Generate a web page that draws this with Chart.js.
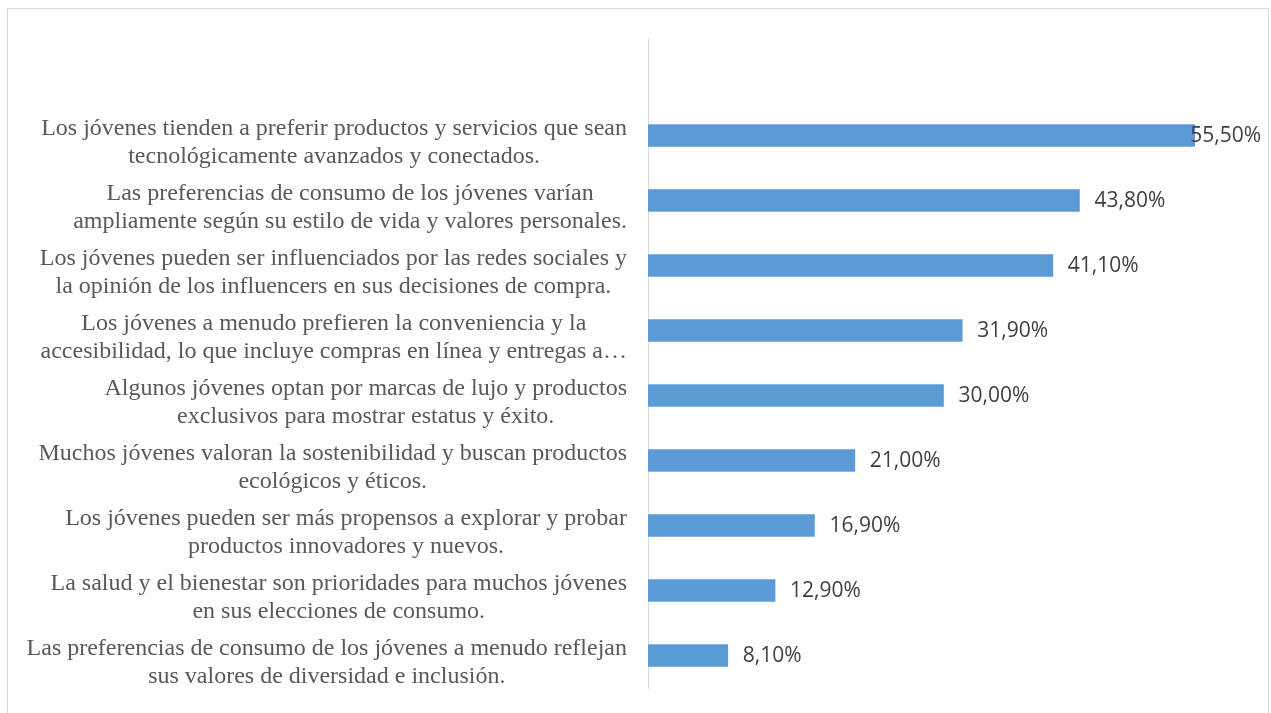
<!DOCTYPE html>
<html>
<head>
<meta charset="utf-8">
<script src="https://cdn.jsdelivr.net/npm/chart.js@4.4.0/dist/chart.umd.min.js"></script>
<style>
  html, body { margin: 0; padding: 0; background: #fff; }
  #frame { position: absolute; left: 7px; top: 8px; width: 1260px; height: 720px; border: 1px solid #d9d9d9; }
  #wrap { position: absolute; left: 0; top: 0; width: 1271px; height: 713px; }
</style>
</head>
<body>
<div id="frame"></div>
<div id="wrap"><canvas id="chart1"></canvas></div>
<script>
// first row is an empty category (blank row in the source sheet)
var categorias = [
    [""],
    ["Los jóvenes tienden a preferir productos y servicios que sean", "tecnológicamente avanzados y conectados."],
    ["Las preferencias de consumo de los jóvenes varían", "ampliamente según su estilo de vida y valores personales."],
    ["Los jóvenes pueden ser influenciados por las redes sociales y", "la opinión de los influencers en sus decisiones de compra."],
    ["Los jóvenes a menudo prefieren la conveniencia y la", "accesibilidad, lo que incluye compras en línea y entregas a…"],
    ["Algunos jóvenes optan por marcas de lujo y productos", "exclusivos para mostrar estatus y éxito."],
    ["Muchos jóvenes valoran la sostenibilidad y buscan productos", "ecológicos y éticos."],
    ["Los jóvenes pueden ser más propensos a explorar y probar", "productos innovadores y nuevos."],
    ["La salud y el bienestar son prioridades para muchos jóvenes", "en sus elecciones de consumo."],
    ["Las preferencias de consumo de los jóvenes a menudo reflejan", "sus valores de diversidad e inclusión."]
];
var porcentajes = [null, 55.5, 43.8, 41.1, 31.9, 30.0, 21.0, 16.9, 12.9, 8.1];
var ejeMax = 60;

function formato(v) {
    return v.toFixed(2).replace('.', ',') + '%';
}

// etiquetas de categoria centradas por bloque, alineadas a la derecha
var etiquetasPlugin = {
    id: 'etiquetas',
    afterDraw: function (chart) {
        var ctx = chart.ctx;
        var y = chart.scales.y;
        var right = chart.chartArea.left - 21;
        ctx.save();
        ctx.font = '24px "Liberation Serif", "Times New Roman", serif';
        ctx.fillStyle = '#595959';
        ctx.textAlign = 'center';
        ctx.textBaseline = 'middle';
        categorias.forEach(function (lineas, i) {
            if (!lineas[0]) return;
            var maxW = 0;
            lineas.forEach(function (l) { maxW = Math.max(maxW, ctx.measureText(l).width); });
            var cx = right - maxW / 2;
            var cy = y.getPixelForValue(i);
            var lh = 28;
            var top = cy - (lineas.length - 1) * lh / 2 + 7;
            lineas.forEach(function (l, k) {
                ctx.fillText(l, cx, top + k * lh);
            });
        });
        ctx.restore();
    }
};

// etiquetas de datos al final de cada barra
var valoresPlugin = {
    id: 'valores',
    afterDatasetsDraw: function (chart) {
        var ctx = chart.ctx;
        var meta = chart.getDatasetMeta(0);
        ctx.save();
        ctx.font = '21px "Open Sans", sans-serif';
        ctx.fillStyle = '#404040';
        ctx.textAlign = 'left';
        ctx.textBaseline = 'middle';
        meta.data.forEach(function (bar, i) {
            var v = porcentajes[i];
            if (v == null) return;
            var t = formato(v);
            var w = ctx.measureText(t).width;
            var x = Math.min(bar.x + 15, chart.width - 10 - w);
            ctx.fillText(t, x, bar.y + 1);
        });
        ctx.restore();
    }
};

var data = {
    labels: categorias,
    datasets: [
        {
            label: "Porcentaje",
            data: porcentajes,
            backgroundColor: "#5b9bd5",
            borderWidth: 0,
            barThickness: 22
        }
    ]
};

var myBarChart = new Chart(document.getElementById("chart1"), {
    type: 'bar',
    data: data,
    options: {
        indexAxis: 'y',
        responsive: true,
        maintainAspectRatio: false,
        animation: false,
        layout: { padding: { left: 648, top: 38, bottom: 25, right: 32 } },
        plugins: {
            legend: { display: false },
            tooltip: { enabled: false }
        },
        scales: {
            x: { display: false, min: 0, max: ejeMax },
            y: {
                ticks: { display: false },
                grid: { display: false },
                border: { display: true, color: '#d9d9d9', width: 1 },
                afterFit: function (s) { s.width = 0; }
            }
        }
    },
    plugins: [etiquetasPlugin, valoresPlugin]
});
</script>
</body>
</html>
